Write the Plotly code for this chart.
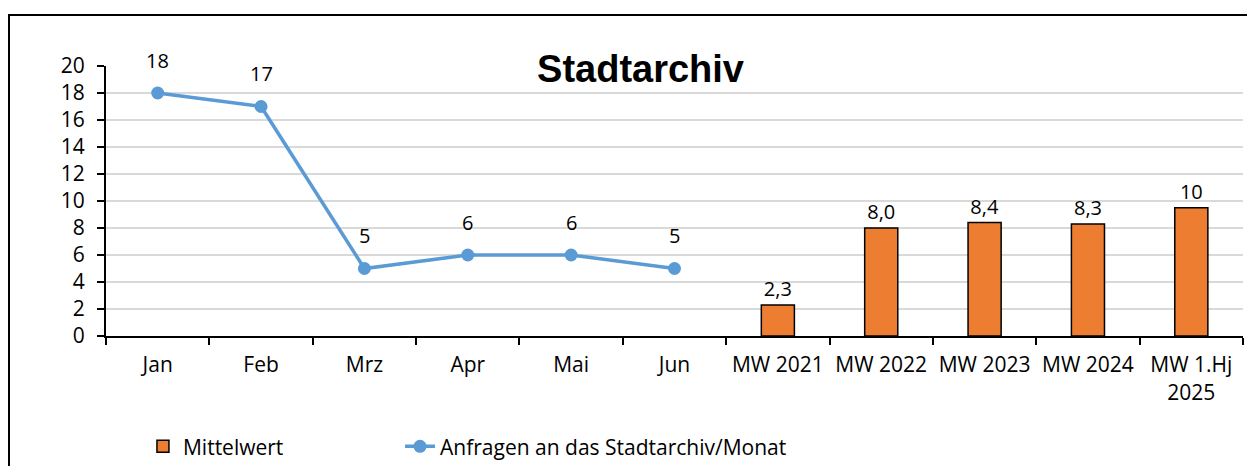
import plotly.graph_objects as go

months = ["Jan", "Feb", "Mrz", "Apr", "Mai", "Jun"]
requests = [18, 17, 5, 6, 6, 5]
request_labels = ["18", "17", "5", "6", "6", "5"]

mw_categories = ["MW 2021", "MW 2022", "MW 2023", "MW 2024", "MW 1.Hj<br>2025"]
mw_values = [2.3, 8.0, 8.4, 8.3, 9.5]
mw_labels = ["2,3", "8,0", "8,4", "8,3", "10"]

all_categories = months + mw_categories
y_ticks = list(range(0, 21, 2))

FONT = "'Open Sans', 'Noto Sans', sans-serif"
TITLE_FONT = "'Liberation Sans', Arial, sans-serif"
BLUE = "#5B9BD5"
ORANGE = "#ED7D31"
FS = 20
TFS = 21

fig = go.Figure()
fig.add_trace(go.Bar(
    x=mw_categories, y=mw_values, name="Mittelwert",
    marker=dict(color=ORANGE, line=dict(color="black", width=1.5)),
    width=0.32,
    text=mw_labels, textposition="outside", cliponaxis=False,
    textfont=dict(size=FS, color="black", family=FONT),
    legend="legend",
))
fig.add_trace(go.Scatter(
    x=months, y=requests, name="Anfragen an das Stadtarchiv/Monat",
    mode="lines+markers",
    line=dict(color=BLUE, width=3.5),
    marker=dict(color=BLUE, size=13),
    cliponaxis=False,
    legend="legend2",
))
for m, v, t in zip(months, requests, request_labels):
    fig.add_annotation(x=m, y=v, text=t, showarrow=False, yshift=33,
                       font=dict(size=FS, color="black", family=FONT))

legend_common = dict(orientation="h", yanchor="middle", y=-0.41, xanchor="left",
                     font=dict(size=TFS, family=FONT), bgcolor="rgba(0,0,0,0)")

fig.update_layout(
    width=1255, height=466,
    margin=dict(l=98, r=20, t=58, b=138, autoexpand=False),
    paper_bgcolor="white", plot_bgcolor="white",
    font=dict(family=FONT, size=FS, color="black"),
    title=dict(text="<b>Stadtarchiv</b>", x=0.504, xanchor="center",
               y=0.87, yanchor="middle",
               font=dict(size=38, family=TITLE_FONT, color="black")),
    showlegend=True,
    legend=dict(x=0.0325, **legend_common),
    legend2=dict(x=0.2586, **legend_common),
    shapes=[dict(type="rect", xref="paper", yref="paper",
                 x0=-0.0853, x1=1.0062, y0=-0.52, y1=1.189,
                 line=dict(color="black", width=2), layer="below")],
)
fig.update_xaxes(
    type="category", categoryorder="array", categoryarray=all_categories,
    showline=True, linecolor="black", linewidth=2,
    ticks="outside", tickson="boundaries", ticklen=7, tickwidth=2, tickcolor="black",
    showgrid=False, tickfont=dict(size=TFS, family=FONT),
    ticklabelstandoff=9,
    range=[-0.5, 10.5],
)
fig.update_yaxes(
    range=[0, 20], tickvals=y_ticks,
    showline=True, linecolor="black", linewidth=2,
    ticks="outside", ticklen=7, tickwidth=2, tickcolor="black",
    showgrid=True, gridcolor="#D9D9D9", gridwidth=2,
    zeroline=False, tickfont=dict(size=TFS, family=FONT),
    ticklabelstandoff=8,
)

fig.write_html("out.html")
